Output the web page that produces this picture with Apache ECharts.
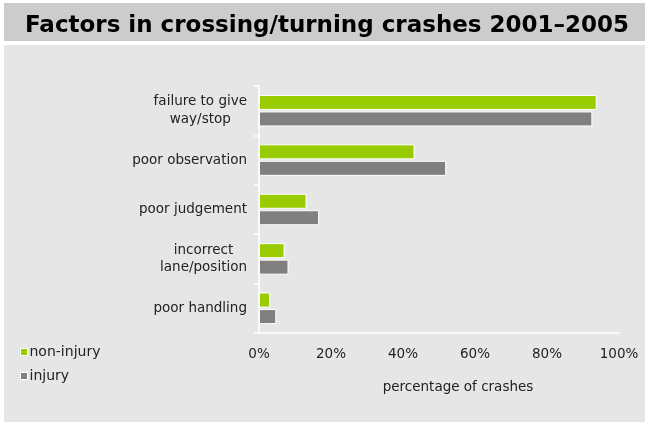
<!DOCTYPE html>
<html>
<head>
<meta charset="utf-8">
<script src="https://cdn.jsdelivr.net/npm/echarts@6/dist/echarts.min.js"></script>
<style>html,body{margin:0;padding:0;background:#fff}#c{width:645px;height:422px}</style>
</head>
<body>
<div id="c"></div>
<script>
var categories = ['failure to give\nway/stop', 'poor observation', 'poor judgement', 'incorrect\nlane/position', 'poor handling'];
var nonInjury = [93.8, 43.2, 13.2, 7.1, 3.1];
var injury = [92.6, 52.0, 16.7, 8.2, 4.8];
var xTicks = [0, 20, 40, 60, 80, 100];

var FONT = '"DejaVu Sans", Verdana, sans-serif';
var chart = echarts.init(document.getElementById('c'), null, {renderer: 'canvas'});
chart.setOption({
  backgroundColor: '#ffffff',
  animation: false,
  graphic: [
    {type: 'rect', z: -10, shape: {x: 4, y: 3, width: 641, height: 38}, style: {fill: '#cccccc'}},
    {type: 'rect', z: -10, shape: {x: 4, y: 45, width: 641, height: 377}, style: {fill: '#e6e6e6'}}
  ],
  title: {
    text: 'Factors in crossing/turning crashes 2001\u20132005',
    left: 20, top: 10, padding: 5,
    textStyle: {fontFamily: FONT, fontSize: 23, fontWeight: 'bold', color: '#000'}
  },
  legend: {
    orient: 'vertical', left: 20, top: 345, padding: 0,
    itemWidth: 7, itemHeight: 7, itemGap: 10,
    icon: 'rect',
    itemStyle: {borderColor: '#ffffff', borderWidth: 1},
    textStyle: {fontFamily: FONT, fontSize: 14, color: '#222', padding: [0, 0, 0, -3]},
    data: ['non-injury', 'injury']
  },
  grid: {left: 259, right: 26, top: 86, height: 247, containLabel: false},
  xAxis: {
    type: 'value', min: 0, max: 100, interval: 20,
    axisLine: {show: true, lineStyle: {color: '#ffffff', width: 1.5}},
    axisTick: {show: false},
    splitLine: {show: false},
    axisLabel: {formatter: '{value}%', margin: 14, fontFamily: FONT, fontSize: 13.5, color: '#222'},
    name: 'percentage of crashes', nameLocation: 'middle', nameGap: 47,
    nameTextStyle: {fontFamily: FONT, fontSize: 13.5, color: '#222', padding: [0, 0, 0, 38]}
  },
  yAxis: {
    type: 'category', inverse: true, data: categories,
    axisLine: {show: true, lineStyle: {color: '#ffffff', width: 1.5}},
    axisTick: {show: true, length: 5, lineStyle: {color: '#ffffff', width: 1.5}},
    axisLabel: {
      margin: 12, align: 'right',
      formatter: function (v) { return v.split('\n').map(function (l) { return '{c|' + l + '}'; }).join('\n'); },
      rich: {c: {align: 'center', fontFamily: FONT, fontSize: 13.5, color: '#222', lineHeight: 17.5}}
    }
  },
  series: [
    {name: 'non-injury', type: 'bar', data: nonInjury, barWidth: 15, barGap: '10%',
     itemStyle: {color: '#99cc00', borderColor: '#ffffff', borderWidth: 1}},
    {name: 'injury', type: 'bar', data: injury, barWidth: 15, barGap: '10%',
     itemStyle: {color: '#808080', borderColor: '#ffffff', borderWidth: 1}}
  ]
});
</script>
</body>
</html>
